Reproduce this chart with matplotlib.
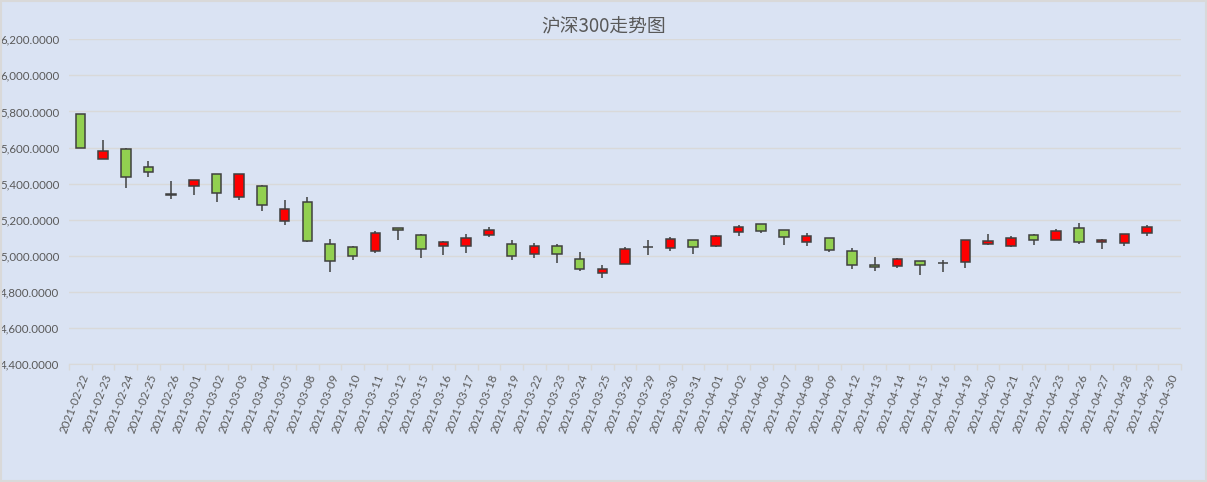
import matplotlib
matplotlib.use("Agg")
import matplotlib.pyplot as plt
import matplotlib.ticker as mticker
import numpy as np

plt.rcParams['font.family'] = ['Noto Sans CJK SC', 'DejaVu Sans']

#=================== DONNEES ===================

dates = ["2021-02-22", "2021-02-23", "2021-02-24", "2021-02-25", "2021-02-26",
         "2021-03-01", "2021-03-02", "2021-03-03", "2021-03-04", "2021-03-05",
         "2021-03-08", "2021-03-09", "2021-03-10", "2021-03-11", "2021-03-12",
         "2021-03-15", "2021-03-16", "2021-03-17", "2021-03-18", "2021-03-19",
         "2021-03-22", "2021-03-23", "2021-03-24", "2021-03-25", "2021-03-26",
         "2021-03-29", "2021-03-30", "2021-03-31", "2021-04-01", "2021-04-02",
         "2021-04-06", "2021-04-07", "2021-04-08", "2021-04-09", "2021-04-12",
         "2021-04-13", "2021-04-14", "2021-04-15", "2021-04-16", "2021-04-19",
         "2021-04-20", "2021-04-21", "2021-04-22", "2021-04-23", "2021-04-26",
         "2021-04-27", "2021-04-28", "2021-04-29", "2021-04-30"]

# 2021-04-30 : pas de donnees
open_ = [5784, 5538, 5590, 5490, 5340, 5385, 5452, 5324, 5385, 5191,
         5296, 5063, 5047, 5025, 5152, 5113, 5052, 5056, 5113, 5063,
         5008, 5052, 4980, 4903, 4953, 5049, 5041, 5086, 5056, 5130,
         5174, 5141, 5075, 5097, 5025, 4947, 4942, 4969, 4962, 4964,
         5063, 5052, 5113, 5086, 5152, 5075, 5069, 5124]
close = [5596, 5579, 5435, 5466, 5336, 5418, 5346, 5452, 5280, 5258,
         5080, 4969, 5001, 5124, 5141, 5036, 5075, 5097, 5141, 5001,
         5052, 5008, 4925, 4925, 5036, 5051, 5091, 5047, 5108, 5158,
         5136, 5102, 5108, 5030, 4947, 4936, 4980, 4947, 4958, 5086,
         5080, 5097, 5086, 5136, 5075, 5086, 5119, 5161]
high = [5786, 5642, 5596, 5524, 5415, 5420, 5455, 5453, 5391, 5309,
        5326, 5093, 5052, 5136, 5155, 5119, 5080, 5121, 5158, 5088,
        5071, 5065, 5021, 4947, 5047, 5088, 5102, 5088, 5113, 5169,
        5176, 5143, 5124, 5099, 5041, 4991, 4986, 4971, 4975, 5088,
        5119, 5108, 5119, 5147, 5180, 5091, 5121, 5169]
low = [5596, 5538, 5378, 5439, 5317, 5339, 5300, 5311, 5250, 5173,
       5075, 4912, 4978, 5017, 5088, 4990, 5004, 5017, 5106, 4978,
       4990, 4962, 4917, 4879, 4953, 5006, 5028, 5012, 5051, 5112,
       5124, 5062, 5056, 5019, 4929, 4917, 4934, 4895, 4912, 4934,
       5058, 5047, 5062, 5086, 5067, 5039, 5056, 5112]

#=================== FIGURE ===================

bg = "#DAE3F3"
fig = plt.figure(figsize=(12.07, 4.82), dpi=100, facecolor=bg)
ax = fig.add_axes([0.0572, 0.2448, 0.9213, 0.6737])
ax.set_facecolor(bg)

o = np.array(open_, dtype=float)
c = np.array(close, dtype=float)
h = np.array(high, dtype=float)
l = np.array(low, dtype=float)
x = np.arange(len(o))

edge = "#404040"
cols = np.where(c > o, "#FF0000", "#92D050")

ax.vlines(x, l, h, color=edge, linewidth=1.1, zorder=2)
ax.bar(x, np.abs(c - o), bottom=np.minimum(o, c), width=0.42,
       color=cols, edgecolor=edge, linewidth=1.1, zorder=3)

ax.set_xlim(-0.5, len(dates) - 0.5)
ax.set_ylim(4400, 6200)
ax.yaxis.set_major_locator(mticker.MultipleLocator(200))
ax.yaxis.set_major_formatter(mticker.FuncFormatter(lambda v, p: "{:,.4f}".format(v)))
ax.grid(axis="y", color="#D9D9D9", linewidth=1)
ax.set_axisbelow(True)

ax.set_xticks(np.arange(len(dates)))
ax.set_xticklabels(dates, rotation=69, ha="right", rotation_mode="anchor")
ax.set_xticks(np.arange(len(dates) + 1) - 0.5, minor=True)
ax.tick_params(axis="x", which="major", length=0, pad=6, labelcolor="#595959")
ax.tick_params(axis="x", which="minor", length=4, color="#D9D9D9", width=1)
ax.tick_params(axis="y", length=0, pad=7, labelcolor="#595959")
for t in ax.get_xticklabels() + ax.get_yticklabels():
    t.set_fontfamily("Lato")
    t.set_fontsize(8.3)

for s in ["top", "right", "left"]:
    ax.spines[s].set_visible(False)
ax.spines["bottom"].set_color("#D9D9D9")

fig.text(0.5, 0.944, "沪深300走势图", ha="center", va="center",
         fontsize=13.5, color="#595959")

# bordure du graphique
fig.patches.append(plt.Rectangle((0.001, 0.002), 0.998, 0.996, transform=fig.transFigure,
                                 fill=False, edgecolor="#D9D9D9", linewidth=1.5))

plt.savefig("out.png", dpi=100, facecolor=bg)
